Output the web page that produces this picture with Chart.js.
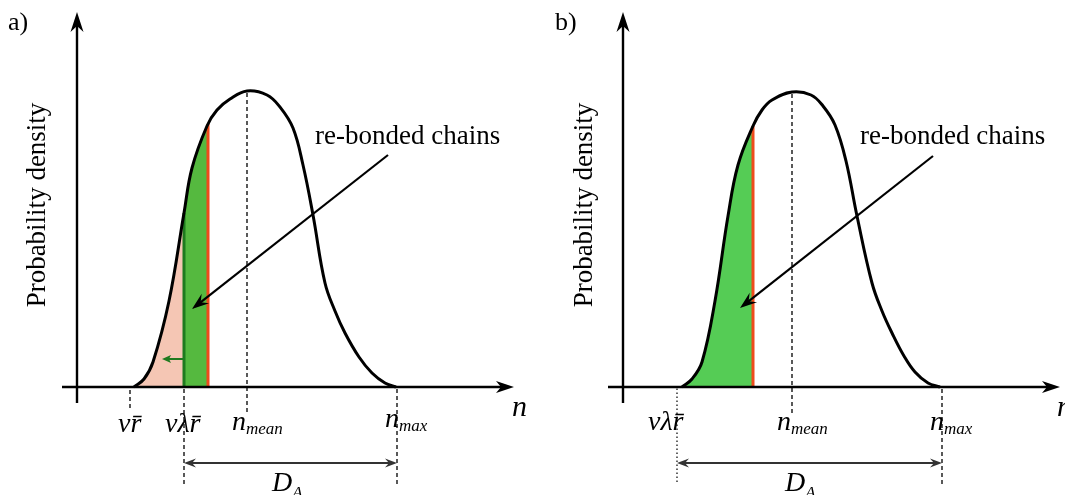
<!DOCTYPE html>
<html>
<head>
<meta charset="utf-8">
<script src="https://cdn.jsdelivr.net/npm/chart.js@4.4.1/dist/chart.umd.min.js"></script>
<style>
  html, body { margin: 0; padding: 0; background: #fff; width: 1065px; height: 495px; overflow: hidden; }
  .panel { position: absolute; top: 0; height: 495px; }
  #panelA { left: 0; width: 527px; }
  #panelB { left: 546px; width: 519px; }
</style>
</head>
<body>
<div class="panel" id="panelA"><canvas id="chartA"></canvas></div>
<div class="panel" id="panelB"><canvas id="chartB"></canvas></div>
<script>
const nA = [57, 67, 76, 92, 107, 115, 130, 140, 153, 170, 190, 203, 216, 226, 236, 248, 258, 268, 282, 295, 308, 319];
const densityA = [0, 8, 25, 86, 174, 219, 261, 277, 288, 296, 292, 280, 259, 222, 172, 104, 76, 54, 30, 14, 4, 0];
const nB = [59, 69, 79, 92, 105, 115, 130, 139, 149, 169, 188, 200, 212, 223, 234, 249, 259, 269, 281, 292, 305, 317];
const densityB = [0, 8, 25, 86, 171, 222, 261, 277, 287, 295, 292, 281, 262, 226, 171, 104, 76, 54, 31, 15, 4, 0];

// marked values on the n axis: v r, v lambda r, cut (red line), n_mean, n_max
const marksA = [53, 107, 131, 170, 320];
const marksB = [null, 54, 130, 169, 319];
// heights where the vertical lines meet the curve
const topsA = [174, 263, 296];   // green line, red line, peak
const topsB = [261, 295];        // red line, peak

// texts
const tickLabelsA = ['νr\u0304', 'νλr\u0304', 'n', 'n'];
const tickLabelsB = ['νλr\u0304', 'n', 'n'];
const tickSubs = ['mean', 'max'];
const panelTags = ['a)', 'b)'];
const yTitle = 'Probability density';
const pointerText = 're-bonded chains';

const serif = '"Liberation Serif", "Times New Roman", serif';
const salmon = '#F5C6B4';
const greenA = '#55B93F';
const greenB = '#55CC55';
const redLine = '#EE4B1C';
const darkGreen = '#1F7A1F';

function pts(xs, ys) { return xs.map((x, i) => ({ x: x, y: ys[i] })); }
function vline(x, y0, y1) { return [{ x: x, y: y0 }, { x: x, y: y1 }]; }

// hard-edged horizontal gradient: colour only between the band limits
function bandFill(bands) {
  return function (c) {
    const chart = c.chart;
    const area = chart.chartArea;
    if (!area) return 'rgba(0,0,0,0)';
    const sx = chart.scales.x;
    const w = area.right - area.left;
    const g = chart.ctx.createLinearGradient(area.left, 0, area.right, 0);
    const clear = 'rgba(255,255,255,0)';
    g.addColorStop(0, clear);
    bands.forEach(b => {
      const t0 = Math.max(0, Math.min(1, (sx.getPixelForValue(b[0]) - area.left) / w));
      const t1 = Math.max(0, Math.min(1, (sx.getPixelForValue(b[1]) - area.left) / w));
      g.addColorStop(t0, clear);
      g.addColorStop(t0, b[2]);
      g.addColorStop(t1, b[2]);
      g.addColorStop(t1, clear);
    });
    g.addColorStop(1, clear);
    return g;
  };
}

function stealth(ctx, x1, y1, x2, y2, len, half, notch) {
  const a = Math.atan2(y2 - y1, x2 - x1);
  ctx.save();
  ctx.translate(x2, y2);
  ctx.rotate(a);
  ctx.beginPath();
  ctx.moveTo(0, 0);
  ctx.lineTo(-len, -half);
  ctx.lineTo(-len + notch, 0);
  ctx.lineTo(-len, half);
  ctx.closePath();
  ctx.fill();
  ctx.restore();
}

function shaft(ctx, x1, y1, x2, y2, cut1, cut2) {
  const d = Math.hypot(x2 - x1, y2 - y1);
  const ux = (x2 - x1) / d, uy = (y2 - y1) / d;
  ctx.beginPath();
  ctx.moveTo(x1 + ux * cut1, y1 + uy * cut1);
  ctx.lineTo(x2 - ux * cut2, y2 - uy * cut2);
  ctx.stroke();
}

function mathLabel(ctx, main, sub, x, y, subDrop) {
  ctx.font = 'italic 28px ' + serif;
  ctx.textAlign = 'left';
  ctx.fillText(main, x, y);
  if (sub) {
    const w = ctx.measureText(main).width;
    ctx.font = 'italic 17px ' + serif;
    ctx.fillText(sub, x + w, y + subDrop);
  }
}

const decoPlugin = {
  id: 'deco',
  afterDatasetsDraw(chart, args, o) {
    const ctx = chart.ctx;
    const X = v => chart.scales.x.getPixelForValue(v);
    const Y = v => chart.scales.y.getPixelForValue(v);
    ctx.save();
    ctx.fillStyle = '#000';
    ctx.strokeStyle = '#000';
    ctx.lineCap = 'butt';

    // axes with arrow heads
    ctx.lineWidth = 2.4;
    shaft(ctx, X(-15), Y(0), X(437), Y(0), 0, 12);
    stealth(ctx, X(-15), Y(0), X(437), Y(0), 18, 6, 5);
    shaft(ctx, X(0), Y(-16), X(0), Y(375), 0, 12);
    stealth(ctx, X(0), Y(-16), X(0), Y(375), 20, 6.5, 6);

    // pointer arrow to the re-bonded chains
    ctx.lineWidth = 2.2;
    const p = o.pointer;
    shaft(ctx, X(p[0]), Y(p[1]), X(p[2]), Y(p[3]), 0, 10);
    stealth(ctx, X(p[0]), Y(p[1]), X(p[2]), Y(p[3]), 17, 6, 6);

    // small green arrow (shift to the left)
    if (o.shift) {
      const s = o.shift;
      ctx.strokeStyle = darkGreen;
      ctx.fillStyle = darkGreen;
      ctx.lineWidth = 2;
      shaft(ctx, X(s[0]), Y(s[1]), X(s[2]), Y(s[1]), 0, 6);
      stealth(ctx, X(s[0]), Y(s[1]), X(s[2]), Y(s[1]), 9, 4, 2);
    }

    // D_A double arrow
    ctx.strokeStyle = '#333';
    ctx.fillStyle = '#333';
    ctx.lineWidth = 2;
    const d = o.span;
    shaft(ctx, X(d[0]), Y(d[2]), X(d[1]), Y(d[2]), 8, 8);
    stealth(ctx, X(d[0]), Y(d[2]), X(d[1]), Y(d[2]), 12, 4.5, 4);
    stealth(ctx, X(d[1]), Y(d[2]), X(d[0]), Y(d[2]), 12, 4.5, 4);

    // texts
    ctx.fillStyle = '#000';
    ctx.textBaseline = 'alphabetic';
    ctx.font = '26px ' + serif;
    ctx.textAlign = 'left';
    ctx.fillText(o.tag, X(o.tagAt[0]), Y(o.tagAt[1]));
    ctx.font = '27px ' + serif;
    ctx.fillText(pointerText, X(o.textAt[0]), Y(o.textAt[1]));

    ctx.save();
    ctx.translate(X(o.titleAt[0]), Y(o.titleAt[1]));
    ctx.rotate(-Math.PI / 2);
    ctx.textAlign = 'center';
    ctx.font = '27px ' + serif;
    ctx.fillText(yTitle, 0, 0);
    ctx.restore();

    o.ticks.forEach(t => mathLabel(ctx, t[0], t[1], X(t[2]), Y(t[3]), 4));
    mathLabel(ctx, 'D', 'A', X(o.dAt[0]), Y(o.dAt[1]), 7);
    ctx.font = 'italic 30px ' + serif;
    ctx.fillText('n', X(o.nAt[0]), Y(o.nAt[1]));
    ctx.restore();
  }
};

function makePanel(id, width, datasets, deco) {
  return new Chart(document.getElementById(id), {
    type: 'line',
    data: { datasets: datasets },
    options: {
      responsive: true,
      maintainAspectRatio: false,
      animation: false,
      events: [],
      layout: { padding: 0 },
      parsing: false,
      elements: { point: { radius: 0 } },
      scales: {
        x: { type: 'linear', min: -77, max: width - 77, display: false },
        y: { type: 'linear', min: -108, max: 387, display: false }
      },
      plugins: { legend: { display: false }, tooltip: { enabled: false }, deco: deco }
    },
    plugins: [decoPlugin]
  });
}

const dashed = { borderColor: '#000', borderWidth: 1.3, borderDash: [4, 3], fill: false, order: 1 };

makePanel('chartA', 527, [
  { data: pts(nA, densityA), borderWidth: 3, borderColor: '#000', fill: false,
    tension: 0.4, order: 0 },
  { data: pts(nA, densityA), borderWidth: 0, borderColor: 'rgba(0,0,0,0)', fill: 'origin',
    backgroundColor: bandFill([[0, marksA[1], salmon], [marksA[1], marksA[2], greenA]]),
    tension: 0.4, order: 3 },
  { data: vline(marksA[1], 0, topsA[0]), borderColor: darkGreen, borderWidth: 3, fill: false, order: 1 },
  { data: vline(marksA[2], 0, topsA[1]), borderColor: redLine, borderWidth: 3, fill: false, order: 1 },
  Object.assign({ data: vline(marksA[3], -25, topsA[2]) }, dashed),
  Object.assign({ data: vline(marksA[0], -21, 0) }, dashed),
  Object.assign({ data: vline(marksA[1], -97, 0) }, dashed),
  Object.assign({ data: vline(marksA[4], -97, 0) }, dashed)
], {
  tag: panelTags[0], tagAt: [-69, 357],
  textAt: [238, 243], titleAt: [-32, 182],
  pointer: [311, 232, 115, 78],
  shift: [107, 28, 85],
  span: [marksA[1], marksA[4], -76],
  ticks: [
    [tickLabelsA[0], '', 41, -45],
    [tickLabelsA[1], '', 88, -45],
    [tickLabelsA[2], tickSubs[0], 155, -43],
    [tickLabelsA[3], tickSubs[1], 308, -40]
  ],
  dAt: [195, -104], nAt: [435, -29]
});

makePanel('chartB', 519, [
  { data: pts(nB, densityB), borderWidth: 3, borderColor: '#000', fill: false,
    tension: 0.4, order: 0 },
  { data: pts(nB, densityB), borderWidth: 0, borderColor: 'rgba(0,0,0,0)', fill: 'origin',
    backgroundColor: bandFill([[0, marksB[2], greenB]]),
    tension: 0.4, order: 3 },
  { data: vline(marksB[2], 0, topsB[0]), borderColor: redLine, borderWidth: 3, fill: false, order: 1 },
  Object.assign({ data: vline(marksB[3], -26, topsB[1]) }, dashed),
  Object.assign({ data: vline(marksB[1], -95, 0) }, dashed, { borderDash: [1.5, 2.5], borderWidth: 1.2 }),
  Object.assign({ data: vline(marksB[4], -97, 0) }, dashed)
], {
  tag: panelTags[1], tagAt: [-68, 357],
  textAt: [237, 243], titleAt: [-31, 182],
  pointer: [310, 231, 117, 79],
  span: [marksB[1], marksB[4], -76],
  ticks: [
    [tickLabelsB[0], '', 25, -43],
    [tickLabelsB[1], tickSubs[0], 154, -43],
    [tickLabelsB[2], tickSubs[1], 307, -43]
  ],
  dAt: [162, -104], nAt: [434, -29]
});
</script>
</body>
</html>
